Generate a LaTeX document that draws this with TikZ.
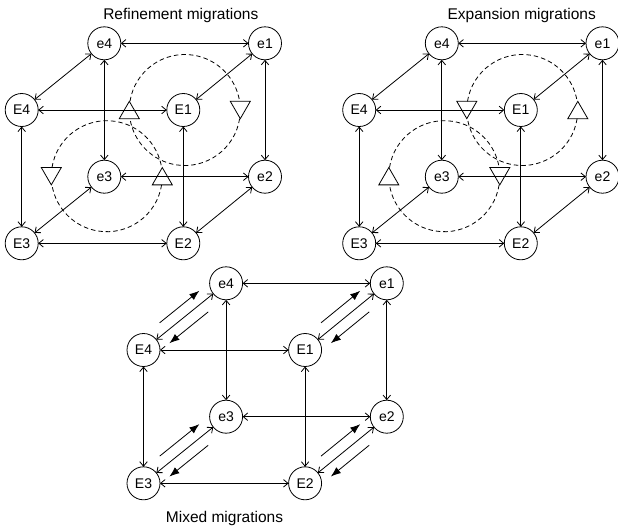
\documentclass[tikz,border=0pt]{standalone}
\usepackage{fontspec}
\setmainfont{Liberation Sans}
\usetikzlibrary{arrows.meta,calc}
\tikzset{
  vtx/.style={circle,draw,line width=0.8pt,minimum size=33pt,inner sep=0pt,outer sep=0pt,font=\fontsize{14}{16}\selectfont},
  dbl/.style={line width=0.8pt,{Straight Barb[length=4.5pt,width=7.5pt]}-{Straight Barb[length=4.5pt,width=7.5pt]}},
  fillarr/.style={line width=0.8pt,-{Latex[length=10pt,width=7.5pt]}},
  circ/.style={line width=0.8pt,dash pattern=on 4.5pt off 3pt},
  tri/.style={line width=0.8pt,solid},
  ttl/.style={font=\fontsize{15.5}{18}\selectfont,inner sep=0pt,anchor=base},
  uptri/.pic={\draw[tri] (-10,8.66) -- (10,8.66) -- (0,-8.66) -- cycle;},
  downtri/.pic={\draw[tri] (-10,-8.66) -- (10,-8.66) -- (0,8.66) -- cycle;}
}
\newcommand\drawcube[3]{%
  \begin{scope}[shift={(#2,#3)}]
    \node[vtx] (#1e4) at (104.3,43.3) {e4};
    \node[vtx] (#1e1) at (265,43.3) {e1};
    \node[vtx] (#1E4) at (21.7,110) {E4};
    \node[vtx] (#1E1) at (183.3,110) {E1};
    \node[vtx] (#1e3) at (104.3,176.7) {e3};
    \node[vtx] (#1e2) at (265,176.7) {e2};
    \node[vtx] (#1E3) at (21.7,243.3) {E3};
    \node[vtx] (#1E2) at (183.3,243.3) {E2};
    \coordinate (#1U) at (184.8,110);
    \coordinate (#1L) at (106.8,176.2);
  \end{scope}
  \draw[dbl] (#1e4) -- (#1e1);
  \draw[dbl] (#1E4) -- (#1e4);
  \draw[dbl] (#1E1) -- (#1e1);
  \draw[dbl] (#1E4) -- (#1E1);
  \draw[dbl] (#1e4) -- (#1e3);
  \draw[dbl] (#1e1) -- (#1e2);
  \draw[dbl] (#1E4) -- (#1E3);
  \draw[dbl] (#1E1) -- (#1E2);
  \draw[dbl] (#1e3) -- (#1e2);
  \draw[dbl] (#1E3) -- (#1e3);
  \draw[dbl] (#1E2) -- (#1e2);
  \draw[dbl] (#1E3) -- (#1E2);
}
\newcommand\dashring[1]{%
  \draw[circ] ($(#1)+(9:55.5)$) arc[start angle=9,end angle=171,radius=55.5];
  \draw[circ] ($(#1)+(189:55.5)$) arc[start angle=189,end angle=351,radius=55.5];
}
\newcommand\mixdiag[2]{%
  \draw[fillarr] ($(#1)!0.28!(#2)!11pt!90:(#2)$) -- ($(#1)!0.76!(#2)!11pt!90:(#2)$);
  \draw[fillarr] ($(#1)!0.70!(#2)!11pt!-90:(#2)$) -- ($(#1)!0.23!(#2)!11pt!-90:(#2)$);
}
\begin{document}
\begin{tikzpicture}[x=1pt,y=-1pt]
\useasboundingbox (0,0) rectangle (618,528);
\node[ttl] (t1) at (180.8,19.3) {Refinement migrations};
\node[ttl] (t2) at (521.7,19.3) {Expansion migrations};
\node[ttl] (t3) at (224.5,522.7) {Mixed migrations};
% Refinement
\drawcube{L}{0}{0}
\dashring{LU}
\dashring{LL}
\pic at ($(LU)+(-55.5,0)$) {uptri};
\pic at ($(LU)+(55.5,0)$) {downtri};
\pic at ($(LL)+(-55.5,0)$) {downtri};
\pic at ($(LL)+(55.5,0)$) {uptri};
% Expansion
\drawcube{R}{337.5}{0}
\dashring{RU}
\dashring{RL}
\pic at ($(RU)+(-55.5,0)$) {downtri};
\pic at ($(RU)+(55.5,0)$) {uptri};
\pic at ($(RL)+(-55.5,0)$) {uptri};
\pic at ($(RL)+(55.5,0)$) {downtri};
% Mixed
\drawcube{M}{121.8}{240}
\mixdiag{ME4}{Me4}
\mixdiag{ME1}{Me1}
\mixdiag{ME3}{Me3}
\mixdiag{ME2}{Me2}
\end{tikzpicture}
\end{document}
